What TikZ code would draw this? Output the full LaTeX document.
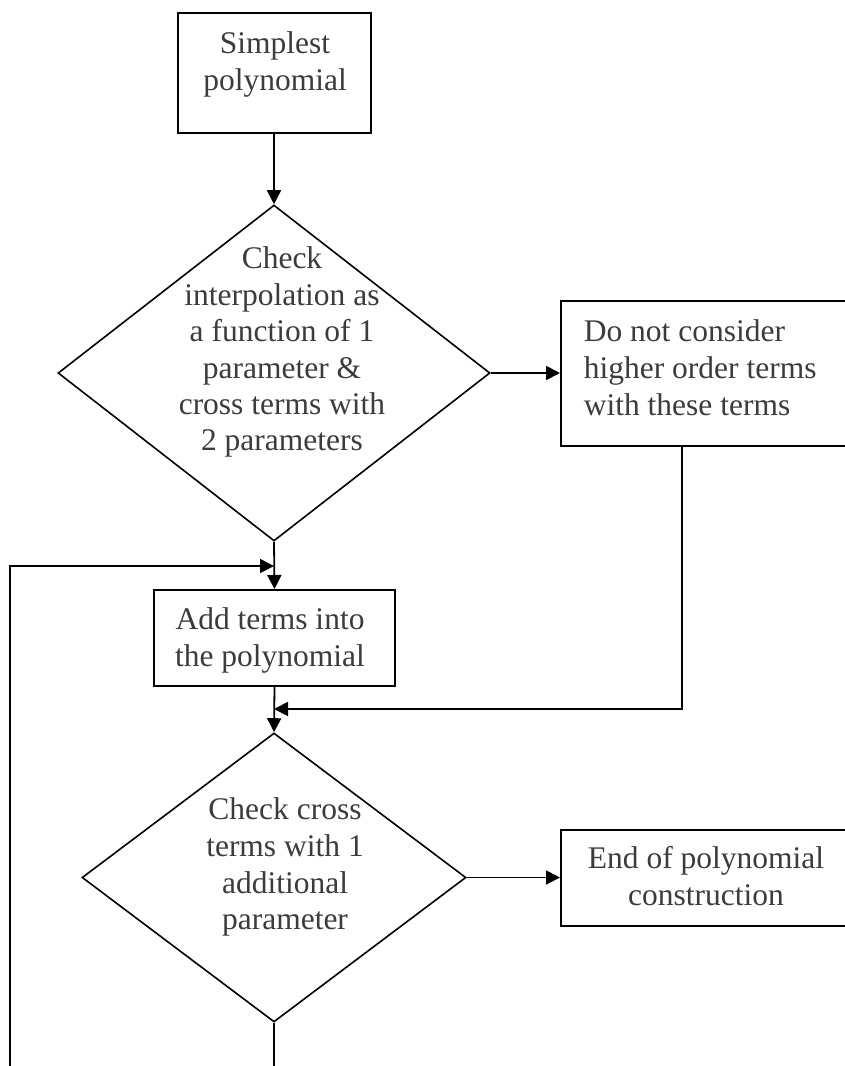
\documentclass[tikz,border=0pt]{standalone}
\usepackage{fontspec}
\setmainfont{Liberation Serif}
\usetikzlibrary{shapes.geometric,arrows.meta}
\definecolor{txt}{RGB}{60,60,60}
\begin{document}
\begin{tikzpicture}[x=1pt,y=-1pt,
  line width=1.7pt,
  boxshape/.style={draw,rectangle,inner sep=0pt,line width=2pt},
  dshape/.style={draw,diamond,inner sep=0pt,line width=1.6pt},
  label/.style={text=txt,inner sep=0pt,font=\fontsize{31.5}{37}\selectfont},
  arr/.style={-{Triangle[length=14pt,width=14pt]},line width=1.8pt}
]
\useasboundingbox (0,0) rectangle (844,1066);
\fill[white] (0,0) rectangle (844,1066);

% shapes
\node[boxshape,minimum width=193pt,minimum height=120pt] (b1) at (274,73) {};
\node[dshape,minimum width=432pt,minimum height=336pt] (d1) at (274,373) {};
\node[boxshape,minimum width=285pt,minimum height=145pt] (b3) at (703.5,373.5) {};
\node[boxshape,minimum width=241pt,minimum height=96pt] (b2) at (274.5,638) {};
\node[dshape,minimum width=384pt,minimum height=289pt] (d2) at (274,877.5) {};
\node[boxshape,minimum width=285pt,minimum height=96pt] (e) at (703.5,878) {};

% texts
\node[label,align=center,anchor=north] (t1) at (275,28) {\rule{0pt}{25pt}Simplest\\polynomial};
\node[label,align=center,anchor=north,font=\fontsize{31.5}{36.4}\selectfont] (t2) at (282,243) {\rule{0pt}{25pt}Check\\interpolation as\\a function of 1\\parameter \&\\cross terms with\\2 parameters};
\node[label,align=left,anchor=north west] (t3) at (583,316) {\rule{0pt}{25pt}Do not consider\\higher order terms\\with these terms};
\node[label,align=center,anchor=north] (t4) at (270,604) {\rule{0pt}{25pt}Add terms into\\the polynomial};
\node[label,align=center,anchor=north,font=\fontsize{31.5}{36.7}\selectfont] (t5) at (285,794) {\rule{0pt}{25pt}Check cross\\terms with 1\\additional\\parameter};
\node[label,align=center,anchor=north] (t6) at (706,843) {\rule{0pt}{25pt}End of polynomial\\construction};

% helper coordinates
\coordinate (loopstart) at (10,1066);
\coordinate (join1) at (274,566);
\coordinate (join2) at (274,709);
\coordinate (bot) at (274,1066);

% connectors
\draw[arr] (b1.south) -- (d1.north);
\draw[arr] (d1.east) -- (d1.east -| b3.west);
\draw[arr] (d1.south) -- (b2.north);
\draw[arr] (loopstart) |- (join1);
\draw[arr] (b2.south) -- (d2.north);
\draw[arr] ([xshift=-21.5pt]b3.south) |- (join2);
\draw[arr] (d2.east) -- (d2.east -| e.west);
\draw (d2.south) -- (bot);
\end{tikzpicture}
\end{document}
